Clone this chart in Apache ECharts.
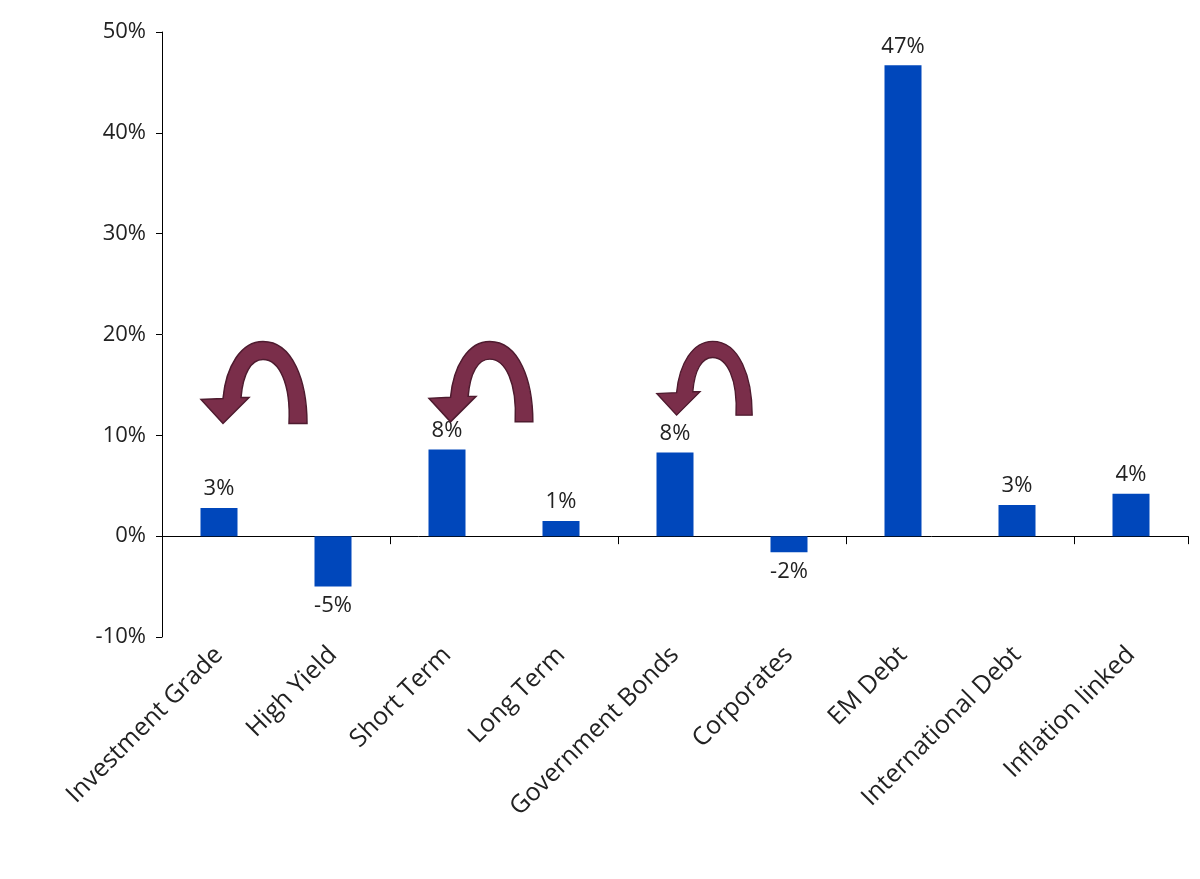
<!DOCTYPE html>
<html>
<head>
<meta charset="utf-8">
<script src="https://cdn.jsdelivr.net/npm/echarts@6/dist/echarts.min.js"></script>
<style>html,body{margin:0;background:#fff}#chart{width:1200px;height:879px}</style>
</head>
<body>
<div id="chart"></div>
<script>
var categories = ["Investment Grade", "High Yield", "Short Term", "Long Term", "Government Bonds", "Corporates", "EM Debt", "International Debt", "Inflation linked"];
var values = [2.8, -5.0, 8.6, 1.5, 8.3, -1.6, 46.7, 3.1, 4.2];
var labels = ["3%", "-5%", "8%", "1%", "8%", "-2%", "47%", "3%", "4%"];
// arrows sit over these categories: [index, scale]
var arrows = [[0, 1], [2, 0.98], [4, 0.9]];

var chart = echarts.init(document.getElementById("chart"));
var font = "'Open Sans', sans-serif";
chart.setOption({
    animation: false,
    grid: { left: 162, right: 12, top: 32, bottom: 242 },
    xAxis: [{
        type: "category",
        data: categories,
        axisLine: { onZero: true, lineStyle: { color: "#000", width: 1 } },
        axisTick: { show: true, length: 8, lineStyle: { color: "#000" } },
        axisLabel: { show: false }
    }, {
        type: "category",
        data: categories,
        position: "bottom",
        axisLine: { show: false, onZero: false },
        axisTick: { show: false },
        axisLabel: { rotate: 45, fontSize: 25, color: "#222", fontFamily: font, margin: 14, interval: 0 }
    }],
    yAxis: {
        type: "value",
        min: -10, max: 50, interval: 10,
        axisLine: { show: true, lineStyle: { color: "#000" } },
        axisTick: { show: true, length: 6, lineStyle: { color: "#000" } },
        splitLine: { show: false },
        axisLabel: { formatter: "{value}%", fontSize: 22, color: "#222", fontFamily: font, margin: 16 }
    },
    series: [{
        type: "bar",
        data: values,
        barWidth: 37,
        itemStyle: { color: "#0047bb" },
        label: {
            show: true,
            position: "outside",
            distance: 8,
            fontSize: 22, color: "#222", fontFamily: font,
            formatter: function (p) { return labels[p.dataIndex]; }
        }
    }]
});

var svg = '<svg xmlns="http://www.w3.org/2000/svg" width="110" height="86" viewBox="-2 -2 110 86">' +
    '<path d="M88,82 C90,42 78,18 62,18 C50,18 42,32 40,56 L48,56 L22,82 L0,58 L22,57 C25,25 40,0 62,0 C92,0 106,40 106,82 Z" ' +
    'fill="#7a2e4a" stroke="#4e1b2f" stroke-width="1.5"/></svg>';
var img = "data:image/svg+xml;charset=utf-8," + encodeURIComponent(svg);
var graphics = arrows.map(function (a) {
    var pt = chart.convertToPixel({ xAxisIndex: 0, yAxisIndex: 0 }, [a[0], 19.6]);
    return {
        type: "image",
        x: pt[0] - 20, y: pt[1] + 1,
        style: { image: img, width: 110 * a[1], height: 86 * a[1] },
        z: 10
    };
});
chart.setOption({ graphic: graphics });
</script>
</body>
</html>
